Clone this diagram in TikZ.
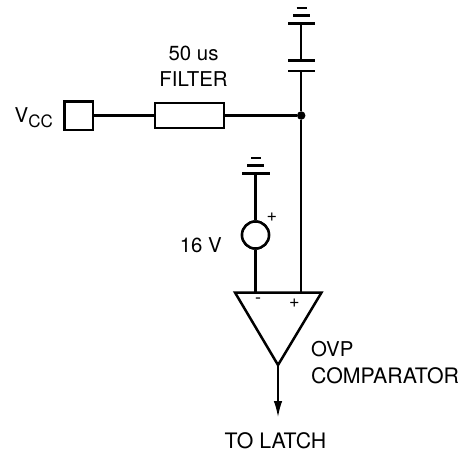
\documentclass[tikz,border=0pt]{standalone}
\usepackage{fontspec}
\setmainfont{TeX Gyre Heros}
\usetikzlibrary{arrows.meta}
\tikzset{
 wire/.style={line width=2.5pt,line join=miter},
 lbl/.style={inner sep=0pt,anchor=base,font=\fontsize{20.4}{24}\selectfont},
 lblb/.style={inner sep=0pt,anchor=base,font=\fontsize{21.3}{24}\selectfont},
 sml/.style={inner sep=0pt,font=\fontsize{18}{20}\selectfont},
 blk/.style={draw,line width=2.5pt,fill=white,rectangle,inner sep=0pt,minimum width=#1},
}
\begin{document}
\begin{tikzpicture}[x=1pt,y=-1pt]
\useasboundingbox (0,0) rectangle (465,453);
% named points
\node[blk=28.5pt,minimum height=28.5pt] (pad) at (78.75,115.5) {};
\node[blk=69pt,minimum height=25pt] (filt) at (189.5,115.5) {};
\node[circle,fill=black,inner sep=0pt,minimum size=8.5pt] (dot) at (301.2,115.5) {};
\node[circle,draw,line width=2.5pt,inner sep=0pt,minimum size=27pt] (src) at (255.5,235) {};
\coordinate (capT) at (301.2,60.5);
\coordinate (capB) at (301.2,71);
\coordinate (gnd1) at (301.2,23.5);
\coordinate (gnd2) at (255.5,173.3);
\coordinate (cL) at (235,292.5);
\coordinate (cR) at (321.5,292.5);
\coordinate (cA) at (278,365);
\coordinate (cM) at (255.5,292.5);
\coordinate (cP) at (301.2,292.5);
\coordinate (out) at (278,417);
% wires
\draw[wire] (pad) -- (filt);
\draw[wire] (filt) -- (dot);
\draw[wire] (capB) -- (dot);
\draw[wire] (dot) -- (cP);
\draw[wire] (gnd1) -- (capT);
\draw[wire] (gnd2) -- (src);
\draw[wire] (src) -- (cM);
% redraw boxes over wires
\node[blk=28.5pt,minimum height=28.5pt] at (pad) {};
\node[blk=69pt,minimum height=25pt] at (filt) {};
\node[circle,draw,line width=2.5pt,fill=white,inner sep=0pt,minimum size=27pt] at (src) {};
% capacitor plates
\draw[wire] (288,60.5) -- (315,60.5);
\draw[wire] (288,71) -- (315,71);
% grounds
\draw[wire] (288,23.5) -- (315,23.5) (293,15.5) -- (310,15.5) (296.5,8) -- (306.5,8);
\draw[wire] (242,173.3) -- (270,173.3) (247,165.5) -- (264,165.5) (251,158) -- (261,158);
% comparator
\draw[wire] (cL) -- (cR) -- (cA) -- cycle;
\draw[line width=2.5pt] (cA) -- (278,396);
\draw[line width=1.4pt,-{Latex[length=16pt,width=8.5pt]}] (278,396) -- (out);
% text
\node[lbl] (t50) at (193.5,60) {50 us};
\node[lbl] (tf) at (193.5,86) {FILTER};
\node[lbl,anchor=base west] (tv) at (14.5,122) {V\raisebox{-5pt}{\fontsize{17}{18}\selectfont CC}};
\node[lbl,anchor=base east] (t16) at (222,252) {16 V};
\node[sml] (p1) at (272,217) {+};
\node[sml] (m) at (258,301) {-};
\node[sml] (p2) at (294.5,303.5) {+};
\node[lbl,anchor=base west] (ovp) at (311,356) {OVP};
\node[lblb,anchor=base west] (comp) at (311,383) {COMPARATOR};
\node[lblb] (tl) at (275.5,448) {TO LATCH};
\end{tikzpicture}
\end{document}
